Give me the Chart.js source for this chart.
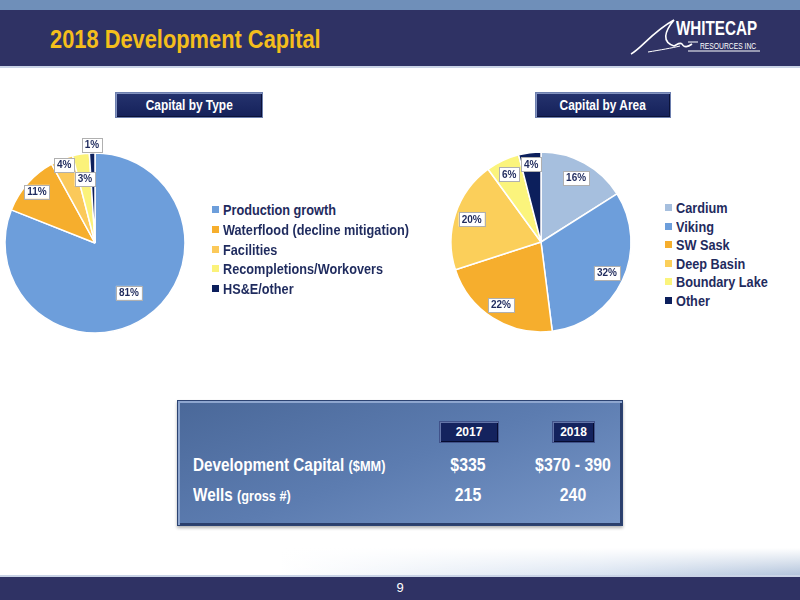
<!DOCTYPE html>
<html>
<head>
<meta charset="utf-8">
<script src="https://cdn.jsdelivr.net/npm/chart.js@4"></script>
<style>
  html, body { margin: 0; padding: 0; }
  body { width: 800px; height: 600px; position: relative; overflow: hidden; background: #fff;
         font-family: "Liberation Sans", Arial, sans-serif; }
  .narrow { transform: scaleX(0.82); transform-origin: 0 50%; }
  .topstrip { position: absolute; left: 0; top: 0; width: 800px; height: 10px; background: #6f8fb9; }
  .header { position: absolute; left: 0; top: 10px; width: 800px; height: 56px; background: #2f3264; border-bottom: 2px solid #c9d3e6; }
  .title { position: absolute; left: 50px; top: 24px; color: #f4be1c; font-weight: bold; font-size: 26px; white-space: nowrap;
           transform: scaleX(0.84); transform-origin: 0 50%; }
  .logo1 { position: absolute; left: 676px; top: 17px; color: #fff; font-weight: bold; font-size: 20px; white-space: nowrap;
           transform: scaleX(0.76); transform-origin: 0 50%; }
  .logo2 { position: absolute; left: 700px; top: 40px; color: #fff; font-size: 9.5px; white-space: nowrap;
           transform: scaleX(0.71); transform-origin: 0 50%; }
  .btn { position: absolute; height: 24px; line-height: 24px; text-align: center; color: #fff; font-weight: bold; font-size: 14px;
         background: linear-gradient(#25336e, #15215a); border: 1px solid #6d7fae; box-shadow: inset 1px 1px 0 #8393c0, inset -1px -1px 0 #0b1238; }
  .btn span { display: inline-block; transform: scaleX(0.85); white-space: nowrap; }
  .legend { position: absolute; color: #1f2b5e; font-weight: bold; font-size: 15.5px; }
  .legend div { position: absolute; left: 0; white-space: nowrap; }
  .legend span.sw { display: inline-block; width: 7px; height: 7px; margin-right: 4px; vertical-align: 2px; }
  .legend span.tx { display: inline-block; transform: scaleX(0.82); transform-origin: 0 50%; }
  canvas { position: absolute; }
  .panel { position: absolute; left: 177px; top: 400px; width: 444px; height: 124px;
           background: linear-gradient(160deg, #4a6899 0%, #5c7cb0 50%, #7897c8 100%);
           border: 1px solid #2c4372; box-shadow: inset 2px 2px 0 #8ea6cf, inset -2px -2px 0 #2b3f6c, 0 2px 3px rgba(0,0,0,0.3); }
  .panel .cell { position: absolute; color: #fff; font-weight: bold; white-space: nowrap; font-size: 18px; }
  .panel .lab { transform: scaleX(0.85); transform-origin: 0 50%; }
  .panel .val { transform: scaleX(0.88); transform-origin: 50% 50%; }
  .yr { position: absolute; height: 20px; line-height: 20px; text-align: center; color: #fff; font-weight: bold; font-size: 12px;
        background: #14235e; border: 1px solid #40528a; box-shadow: inset 1px 1px 0 #6475a8, inset -1px -1px 0 #060c30; }
  .swoosh { position: absolute; left: 0; top: 548px; width: 800px; height: 27px;
            background: linear-gradient(90deg, rgba(255,255,255,0) 35%, rgba(214,225,240,0.9) 75%, #b4c5dc 100%); }
  .swoosh2 { position: absolute; left: 0; top: 548px; width: 800px; height: 27px;
             background: linear-gradient(180deg, #fff 0%, rgba(255,255,255,0) 100%); }
  .footer { position: absolute; left: 0; top: 575px; width: 800px; height: 25px; background: #2f3264; border-top: 2px solid #c9d3e6; }
  .pagenum { position: absolute; left: 0; width: 800px; top: 580px; text-align: center; color: #fff; font-size: 13px; }
</style>
</head>
<body>
<div class="topstrip"></div>
<div class="header"></div>
<div class="title">2018 Development Capital</div>
<svg style="position:absolute;left:628px;top:14px" width="140" height="42">
  <path d="M3 40 C 14 34, 24 18, 46 6 C 36 18, 34 28, 46 32 C 50 30, 52 28, 54 30 C 56 34, 60 33, 64 30" fill="none" stroke="#fff" stroke-width="1.6"/>
  <path d="M20 38 C 32 36, 44 34, 52 32" fill="none" stroke="#fff" stroke-width="1"/>
  <path d="M60 28 L 70 28 M 60 37 L 132 37" fill="none" stroke="#fff" stroke-width="1.2"/>
</svg>
<div class="logo1">WHITECAP</div>
<div class="logo2">RESOURCES INC</div>

<div class="btn" style="left:115px;top:92px;width:146px;"><span>Capital by Type</span></div>
<div class="btn" style="left:535px;top:92px;width:134px;"><span>Capital by Area</span></div>

<canvas id="typeChart" width="190" height="220" style="left:0px;top:133px;"></canvas>
<canvas id="areaChart" width="190" height="220" style="left:446px;top:132px;"></canvas>

<div class="legend" id="typeLegend" style="left:212px;top:201px;"></div>
<div class="legend" id="areaLegend" style="left:665px;top:199px;"></div>

<div class="swoosh"></div>
<div class="swoosh2"></div>
<div class="panel" id="panel"></div>
<div class="footer"></div>
<div class="pagenum">9</div>

<script>
// Capital by Type
const typeLabels = ['Production growth', 'Waterflood (decline mitigation)', 'Facilities', 'Recompletions/Workovers', 'HS&E/other'];
const typeValues = [81, 11, 4, 3, 1];
const typeColors = ['#6d9edb', '#f6ae2d', '#fbc95a', '#fbf27a', '#0c1f5c'];

// Capital by Area
const areaLabels = ['Cardium', 'Viking', 'SW Sask', 'Deep Basin', 'Boundary Lake', 'Other'];
const areaValues = [16, 32, 22, 20, 6, 4];
const areaColors = ['#a6bfde', '#6d9edb', '#f6ae2d', '#fbcf5a', '#fbf47c', '#0c1f5c'];

// table
const tableYears = ['2017', '2018'];
const rowNames = ['Development Capital', 'Wells'];
const rowUnits = ['($MM)', '(gross #)'];
const values2017 = ['$335', '215'];
const values2018 = ['$370 - 390', '240'];

const boxLabels = {
    id: 'boxLabels',
    afterDatasetsDraw(chart, args, opts) {
        const ctx = chart.ctx;
        const meta = chart.getDatasetMeta(0);
        const data = chart.data.datasets[0].data;
        ctx.save();
        ctx.font = 'bold 10px "Liberation Sans", Arial, sans-serif';
        ctx.textAlign = 'center';
        ctx.textBaseline = 'middle';
        meta.data.forEach((arc, i) => {
            const mid = (arc.startAngle + arc.endAngle) / 2;
            const r = arc.outerRadius * opts.offsets[i];
            const x = arc.x + Math.cos(mid) * r;
            const y = arc.y + Math.sin(mid) * r;
            const text = data[i] + '%';
            const w = ctx.measureText(text).width + 6;
            const h = 14;
            ctx.fillStyle = '#ffffff';
            ctx.fillRect(x - w / 2, y - h / 2, w, h);
            ctx.strokeStyle = '#b0b0b0';
            ctx.lineWidth = 1;
            ctx.strokeRect(Math.round(x - w / 2) + 0.5, Math.round(y - h / 2) + 0.5, Math.round(w), h);
            ctx.fillStyle = '#1f2b5e';
            ctx.fillText(text, x, y + 0.5);
        });
        ctx.restore();
    }
};

const makePie = (id, labels, values, colors, offsets) => {
    return new Chart(document.getElementById(id), {
        type: 'pie',
        data: {
            labels: labels,
            datasets: [{
                data: values,
                backgroundColor: colors,
                borderColor: '#ffffff',
                borderWidth: 1.5
            }]
        },
        options: {
            responsive: false,
            animation: false,
            radius: 90,
            plugins: {
                legend: { display: false },
                tooltip: { enabled: false },
                boxLabels: { offsets: offsets }
            }
        },
        plugins: [boxLabels]
    });
};

const typeChart = makePie('typeChart', typeLabels, typeValues, typeColors, [0.67, 0.86, 0.93, 0.72, 1.09]);
const areaChart = makePie('areaChart', areaLabels, areaValues, areaColors, [0.81, 0.81, 0.83, 0.81, 0.83, 0.87]);

const buildLegend = (id, labels, colors, step) => {
    const el = document.getElementById(id);
    labels.forEach((label, i) => {
        const row = document.createElement('div');
        row.style.top = (i * step) + 'px';
        const sw = document.createElement('span');
        sw.className = 'sw';
        sw.style.background = colors[i];
        const tx = document.createElement('span');
        tx.className = 'tx';
        tx.textContent = label;
        row.appendChild(sw);
        row.appendChild(tx);
        el.appendChild(row);
    });
};
buildLegend('typeLegend', typeLabels, typeColors, 19.8);
buildLegend('areaLegend', areaLabels, areaColors, 18.5);

!(() => {
    const panel = document.getElementById('panel');
    const add = (html, left, top, width, cls) => {
        const d = document.createElement('div');
        d.className = cls;
        d.innerHTML = html;
        d.style.left = left + 'px';
        d.style.top = top + 'px';
        if (width) { d.style.width = width + 'px'; d.style.textAlign = 'center'; }
        panel.appendChild(d);
        return d;
    };
    add(tableYears[0], 261, 20, 58, 'yr');
    add(tableYears[1], 374, 20, 41, 'yr');
    const rowTops = [54, 84];
    rowNames.forEach((name, i) => {
        add(name + ' <span style="font-size:15px">' + rowUnits[i] + '</span>', 15, rowTops[i], 0, 'cell lab');
        add(values2017[i], 240, rowTops[i], 100, 'cell val');
        add(values2018[i], 345, rowTops[i], 100, 'cell val');
    });
})();
</script>
</body>
</html>
